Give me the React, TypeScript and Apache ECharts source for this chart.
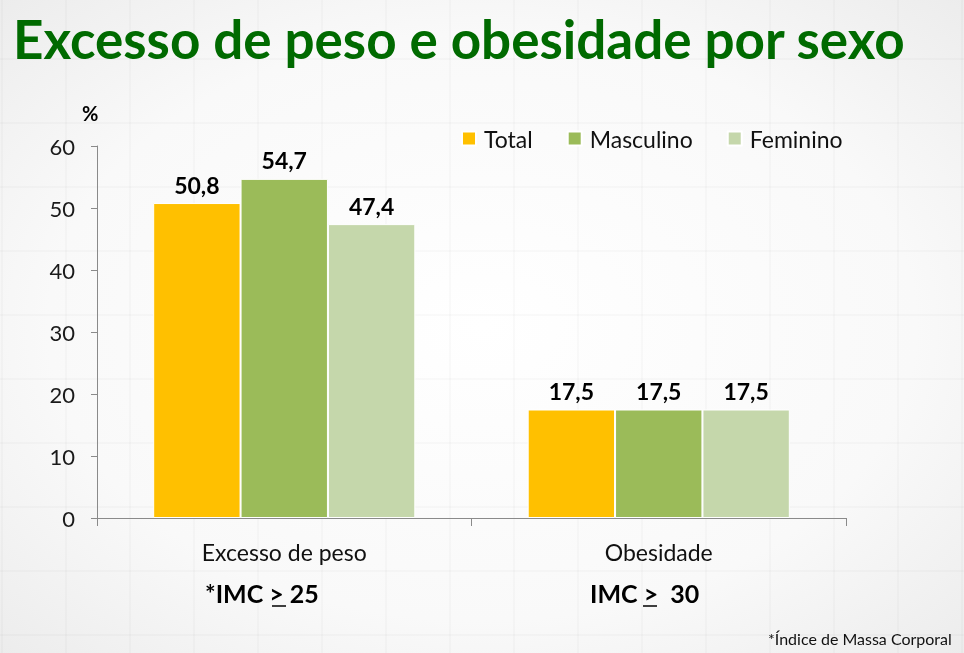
import React, { useEffect, useRef } from "react";
import * as echarts from "echarts";

const categories = ["Excesso de peso", "Obesidade"];
const seriesNames = ["Total", "Masculino", "Feminino"];
const totalValues = [50.8, 17.5];
const masculinoValues = [54.7, 17.5];
const femininoValues = [47.4, 17.5];
const yTicks = { min: 0, max: 60, interval: 10 };
const colors = ["#FFC000", "#9BBB59", "#C5D7AB"];

const FONT = "Lato, 'Open Sans', sans-serif";

export default function App() {
  const ref = useRef<HTMLDivElement>(null);
  useEffect(() => {
    if (!ref.current) return;
    const chart = echarts.init(ref.current, null, { renderer: "svg" });
    const values = [totalValues, masculinoValues, femininoValues];

    const gridLines: any[] = [];
    for (let x = 2; x < 964; x += 64) {
      gridLines.push({
        type: "line",
        silent: true,
        z: -10,
        shape: { x1: x, y1: 0, x2: x, y2: 653 },
        style: { stroke: "rgba(0,0,0,0.02)", lineWidth: 2 },
      });
    }
    for (let y = 59; y < 653; y += 64) {
      gridLines.push({
        type: "line",
        silent: true,
        z: -10,
        shape: { x1: 0, y1: y, x2: 964, y2: y },
        style: { stroke: "rgba(0,0,0,0.02)", lineWidth: 2 },
      });
    }

    chart.setOption({
      animation: false,
      backgroundColor: {
        type: "radial",
        x: 0.5,
        y: 0.5,
        r: 0.75,
        colorStops: [
          { offset: 0, color: "#ffffff" },
          { offset: 0.6, color: "#f9f9f9" },
          { offset: 1, color: "#eaeaea" },
        ],
      },
      textStyle: { fontFamily: FONT },
      grid: { left: 97, top: 146, width: 749, height: 372, containLabel: false },
      legend: {
        left: 456,
        top: 122,
        itemWidth: 14,
        itemHeight: 14,
        itemGap: 34,
        icon: "rect",
        textStyle: { fontSize: 23, color: "#111", fontFamily: FONT, padding: [0, 0, 0, 3] },
        data: seriesNames,
      },
      xAxis: {
        type: "category",
        data: categories,
        axisLine: { lineStyle: { color: "#8a8a8a", width: 1 } },
        axisTick: { show: true, length: 8, lineStyle: { color: "#8a8a8a" } },
        axisLabel: { fontSize: 23, color: "#111", margin: 22, fontFamily: FONT },
      },
      yAxis: {
        type: "value",
        min: yTicks.min,
        max: yTicks.max,
        interval: yTicks.interval,
        axisLine: { show: true, lineStyle: { color: "#8a8a8a", width: 1 } },
        axisTick: { show: true, length: 6, lineStyle: { color: "#8a8a8a" } },
        splitLine: { show: false },
        axisLabel: { fontSize: 22, color: "#1a1a1a", margin: 22, fontFamily: FONT },
      },
      series: seriesNames.map((name, i) => ({
        name,
        type: "bar",
        data: values[i],
        barGap: "0%",
        barCategoryGap: "30%",
        itemStyle: { color: colors[i], borderColor: "#ffffff", borderWidth: 1 },
        label: {
          show: true,
          position: "top",
          distance: 7,
          fontSize: 23,
          fontWeight: "bold",
          color: "#000",
          fontFamily: FONT,
          formatter: (p: any) => String(p.value).replace(".", ","),
        },
      })),
      graphic: [
        ...gridLines,
        {
          type: "text",
          left: 13,
          top: 12,
          style: {
            text: "Excesso de peso e obesidade por sexo",
            fontSize: 53,
            fontWeight: "bold",
            fill: "#006A00",
            fontFamily: FONT,
          },
        },
        {
          type: "text",
          left: 82,
          top: 103,
          style: { text: "%", fontSize: 20, fontWeight: "bold", fill: "#000", fontFamily: FONT },
        },
        {
          type: "text",
          left: 205,
          top: 580,
          style: { text: "*IMC > 25", fontSize: 25, fontWeight: "bold", fill: "#000", fontFamily: FONT },
        },
        {
          type: "line",
          shape: { x1: 272, y1: 606, x2: 286, y2: 606 },
          style: { stroke: "#000", lineWidth: 1.5 },
        },
        {
          type: "text",
          left: 590,
          top: 580,
          style: { text: "IMC >  30", fontSize: 25, fontWeight: "bold", fill: "#000", fontFamily: FONT },
        },
        {
          type: "line",
          shape: { x1: 643, y1: 606, x2: 657, y2: 606 },
          style: { stroke: "#000", lineWidth: 1.5 },
        },
        {
          type: "text",
          left: 768,
          top: 630,
          style: { text: "*Índice de Massa Corporal", fontSize: 16, fill: "#111", fontFamily: FONT },
        },
      ],
    });
    return () => chart.dispose();
  }, []);
  return (
    <div
      ref={ref}
      style={{ position: "fixed", left: 0, top: 0, width: 964, height: 653 }}
    />
  );
}
